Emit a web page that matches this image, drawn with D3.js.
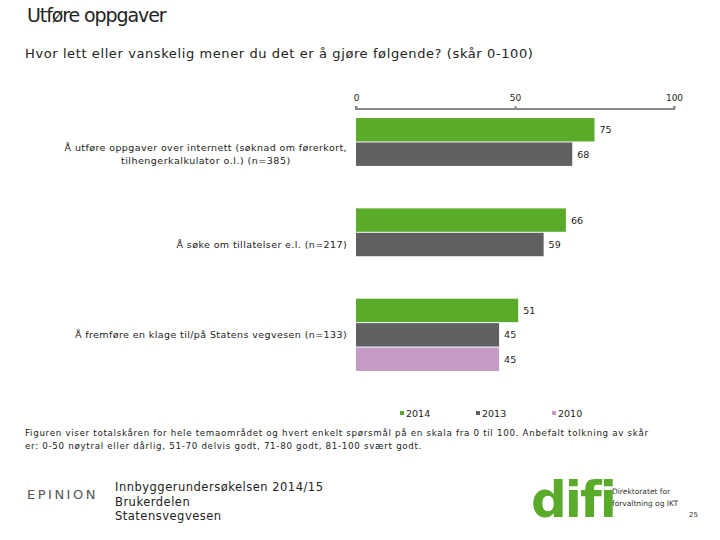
<!DOCTYPE html>
<html><head><meta charset="utf-8">
<script src="https://cdn.jsdelivr.net/npm/d3@7"></script>
<style>
body{margin:0;background:#fff;}
text{font-family:"DejaVu Sans",Verdana,sans-serif;}
</style></head>
<body><svg id="c" width="720" height="540"></svg>
<script>
const categories = [
  ["Å utføre oppgaver over internett (søknad om førerkort,", "tilhengerkalkulator o.l.) (n=385)"],
  ["Å søke om tillatelser e.l. (n=217)"],
  ["Å fremføre en klage til/på Statens vegvesen (n=133)"]
];
const years = ["2014", "2013", "2010"];
const values2014 = [75, 66, 51];
const values2013 = [68, 59, 45];
const values2010 = [null, null, 45];
const axisTicks = [0, 50, 100];
const colors = {"2014": "#5bab2b", "2013": "#5f6062", "2010": "#c59ac5"};

const svg = d3.select("#c");
const x = d3.scaleLinear().domain([0, 100]).range([356, 674]);
const y = d3.scaleBand().domain(d3.range(categories.length)).range([109, 380]).paddingInner(0.2).paddingOuter(0.1);
const ys = d3.scaleBand().domain(years).range([0, y.bandwidth()]).paddingInner(0.04);

// titles
svg.append("text").attr("x", 27).attr("y", 22).attr("font-size", 19).attr("letter-spacing", -1.1).attr("fill", "#222").text("Utføre oppgaver");
svg.append("text").attr("x", 25).attr("y", 58).attr("font-size", 13).attr("letter-spacing", 0.6).attr("fill", "#222")
  .text("Hvor lett eller vanskelig mener du det er å gjøre følgende? (skår 0-100)");

// axis
const ax = svg.append("g").attr("transform", "translate(0,109)")
  .call(d3.axisTop(x).tickValues(axisTicks).tickSize(3).tickPadding(5).tickFormat(d3.format("d")));
ax.select(".domain").attr("stroke", "#8a8a8a").attr("stroke-width", 2).attr("d", `M${x(0)},-3V0H${x(100)}V-3`);
ax.selectAll(".tick line").attr("stroke", "#8a8a8a").attr("stroke-width", 2);
ax.selectAll(".tick text").attr("font-size", 9).attr("fill", "#222").attr("font-family", "DejaVu Sans, Verdana, sans-serif");

// bars
const series = {"2014": values2014, "2013": values2013, "2010": values2010};
years.forEach(yr => {
  series[yr].forEach((v, i) => {
    if (v == null) return;
    const y0 = y(i) + ys(yr);
    svg.append("rect").attr("x", x(0)).attr("y", y0).attr("width", x(v) - x(0)).attr("height", ys.bandwidth()).attr("fill", colors[yr]);
    svg.append("text").attr("x", x(v) + 5).attr("y", y0 + ys.bandwidth() / 2 + 3.5)
      .attr("font-size", 9.5).attr("fill", "#222").text(v);
  });
});

// category labels
categories.forEach((lines, i) => {
  const cy = y(i) + y.bandwidth() / 2;
  const lh = 12.5;
  const g = svg.append("g");
  const t0 = g.append("text").attr("x", 347).attr("text-anchor", "end").attr("font-size", 9.5).attr("letter-spacing", 0.4).attr("fill", "#222")
    .attr("y", cy + 3.5 - (lines.length - 1) * lh / 2).text(lines[0]);
  if (lines.length > 1) {
    const w = t0.node().getComputedTextLength();
    const mid = 347 - w / 2;
    for (let k = 1; k < lines.length; k++) {
      g.append("text").attr("x", mid).attr("text-anchor", "middle").attr("font-size", 9.5).attr("letter-spacing", 0.5).attr("fill", "#222")
        .attr("y", cy + 3.5 - (lines.length - 1) * lh / 2 + k * lh).text(lines[k]);
    }
  }
});

// legend
const legX = [400, 476, 552];
years.forEach((yr, i) => {
  svg.append("rect").attr("x", legX[i]).attr("y", 411).attr("width", 4).attr("height", 4).attr("fill", colors[yr]);
  svg.append("text").attr("x", legX[i] + 6).attr("y", 417).attr("font-size", 9.5).attr("fill", "#222").text(yr);
});

// footnote
svg.append("text").attr("x", 25).attr("y", 436).attr("font-size", 8.7).attr("letter-spacing", 0.7).attr("fill", "#222")
  .text("Figuren viser totalskåren for hele temaområdet og hvert enkelt spørsmål på en skala fra 0 til 100. Anbefalt tolkning av skår");
svg.append("text").attr("x", 25).attr("y", 449).attr("font-size", 8.7).attr("letter-spacing", 0.7).attr("fill", "#222")
  .text("er: 0-50 nøytral eller dårlig, 51-70 delvis godt, 71-80 godt, 81-100 svært godt.");

// footer
svg.append("text").attr("x", 27).attr("y", 499).attr("font-size", 13).attr("letter-spacing", 2.5).attr("fill", "#555")
  .text("EPINION");
["Innbyggerundersøkelsen 2014/15", "Brukerdelen", "Statensvegvesen"].forEach((s, i) => {
  svg.append("text").attr("x", 115).attr("y", 491 + i * 14.5).attr("font-size", 11.5).attr("letter-spacing", 0.5).attr("fill", "#222").text(s);
});
// difi logo
svg.append("text").attr("x", 531).attr("y", 517).attr("font-size", 50).attr("font-weight", "bold")
  .attr("letter-spacing", -2).attr("fill", "#5bab2b").attr("font-family", "Liberation Sans, Arial, sans-serif").text("difi");
svg.append("text").attr("x", 612).attr("y", 494).attr("font-size", 7.5).attr("fill", "#333").text("Direktoratet for");
svg.append("text").attr("x", 612).attr("y", 506).attr("font-size", 7.5).attr("fill", "#333").text("forvaltning og IKT");
svg.append("text").attr("x", 689).attr("y", 517).attr("font-size", 7).attr("fill", "#333").text("25");
</script></body></html>
